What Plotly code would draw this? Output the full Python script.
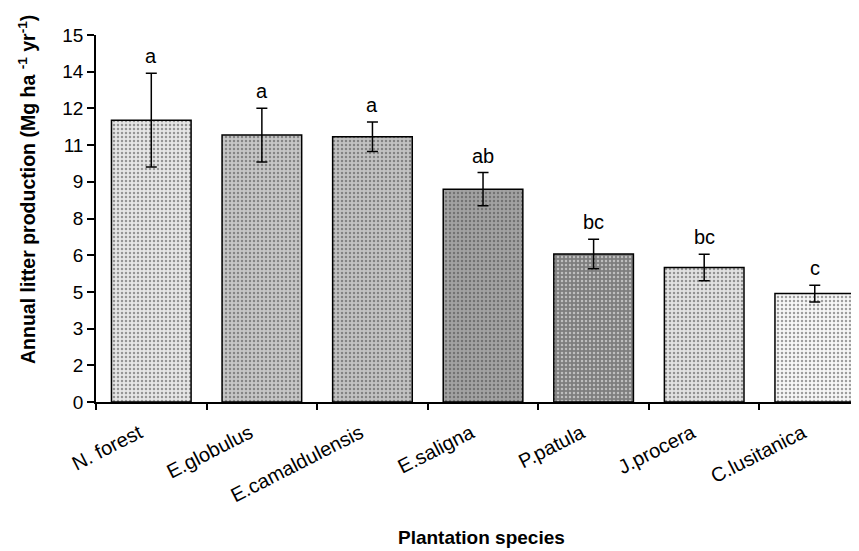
import plotly.graph_objects as go
import math

categories = ["N. forest", "E.globulus", "E.camaldulensis", "E.saligna", "P.patula", "J.procera", "C.lusitanica"]
values = [11.52, 10.91, 10.84, 8.70, 6.05, 5.50, 4.43]
errors = [1.92, 1.10, 0.60, 0.68, 0.60, 0.54, 0.34]
letters = ["a", "a", "a", "ab", "bc", "bc", "c"]
bar_colors = ["#e6e6e6", "#c6c6c6", "#c2c2c2", "#a2a2a2", "#7e7e7e", "#e2e2e2", "#f7f7f7"]
pattern_fg = ["#bdbdbd", "#9a9a9a", "#8a8a8a", "#707070", "#555555", "#bcbcbc", "#c8c8c8"]
y_tickvals = [i * 1.5 for i in range(11)]
y_ticktext = [str(int(math.floor(v + 0.5))) for v in y_tickvals]

# page body has an 8px margin; size the figure so it fits the 859x551 window
OFF = 8
W, H = 859 - OFF, 551 - OFF
ml, mr, mt = 96 - OFF, 0, 35 - OFF
plot_h = 367
mb = H - mt - plot_h
FONT = "Liberation Sans, Arial"

fig = go.Figure()
fig.add_trace(go.Bar(
    x=categories, y=values,
    width=0.72,
    marker=dict(color=bar_colors, line=dict(color="black", width=1.5),
                pattern=dict(shape=".", fgcolor=pattern_fg, size=4, solidity=0.3)),
    error_y=dict(type="data", array=errors, visible=True, color="black", thickness=1.5, width=5.5),
    showlegend=False,
))

for c, v, e, t in zip(categories, values, errors, letters):
    fig.add_annotation(x=c, y=v + e, text=t, showarrow=False, yanchor="bottom", yshift=4,
                       font=dict(family=FONT, size=20, color="black"))

pw, ph = W - ml - mr, plot_h
fig.add_annotation(xref="paper", yref="paper",
                   x=(27 - OFF - ml) / pw, y=(mt + ph - (190 - OFF)) / ph,
                   text="<b>Annual litter production (Mg ha <sup>-1</sup> yr<sup>-1</sup>)</b>",
                   textangle=-90, showarrow=False, xanchor="center", yanchor="middle",
                   font=dict(family=FONT, size=19.5, color="black"))
fig.add_annotation(xref="paper", yref="paper",
                   x=(481 - OFF - ml) / pw, y=(mt + ph - (537 - OFF)) / ph,
                   text="<b>Plantation species</b>", showarrow=False,
                   xanchor="center", yanchor="middle",
                   font=dict(family=FONT, size=19, color="black"))

fig.update_layout(
    width=W, height=H,
    margin=dict(l=ml, r=mr, t=mt, b=mb),
    plot_bgcolor="white", paper_bgcolor="white",
    font=dict(family=FONT, color="black"),
    xaxis=dict(range=[-0.5, 6.4], showline=True, linecolor="black", linewidth=1.5,
               ticks="outside", tickson="boundaries", ticklen=6, tickwidth=1.5, tickcolor="black",
               tickangle=-27, tickfont=dict(size=20), ticklabelshift=-12, ticklabelstandoff=10,
               showgrid=False, zeroline=False),
    yaxis=dict(range=[0, 15], tickvals=y_tickvals, ticktext=y_ticktext,
               showline=True, linecolor="black", linewidth=1.5,
               ticks="outside", ticklen=7, tickwidth=1.5, tickcolor="black",
               tickfont=dict(size=19), showgrid=False, zeroline=False),
    bargap=0.28,
)

fig.write_html("out.html")
